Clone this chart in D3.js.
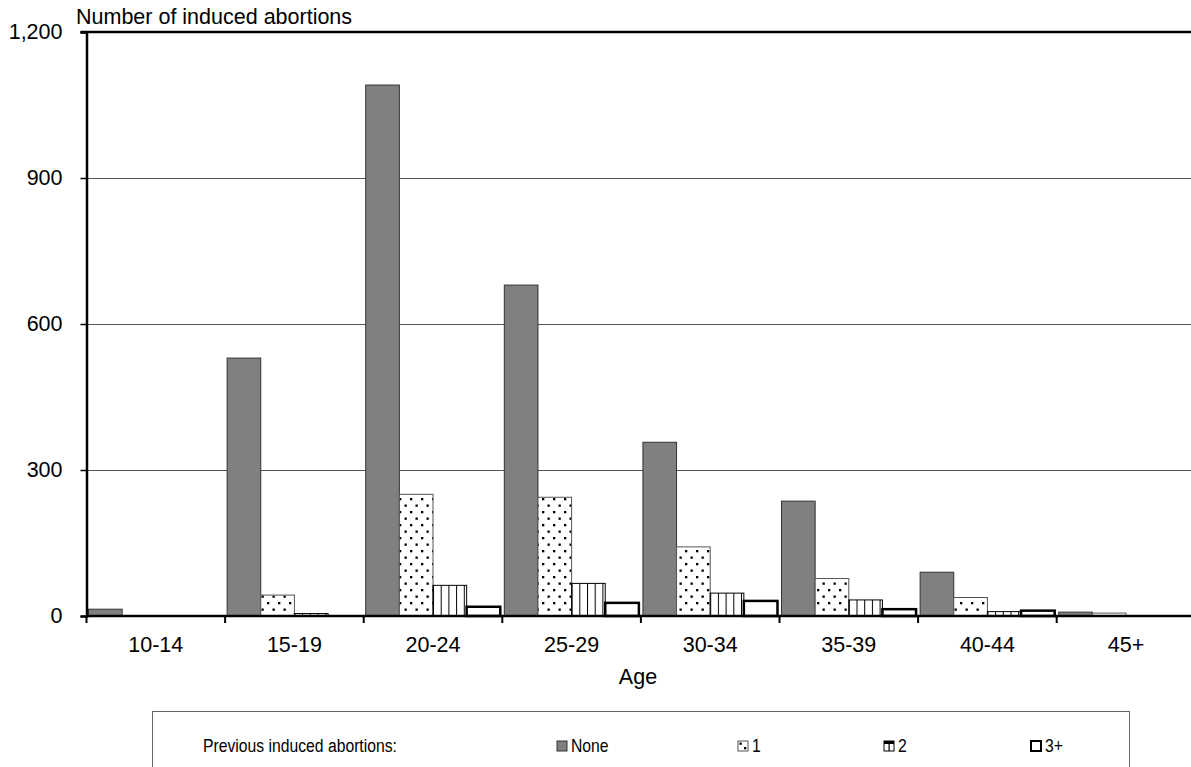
<!DOCTYPE html>
<html><head><meta charset="utf-8">
<script src="https://cdn.jsdelivr.net/npm/d3@7"></script>
<style>body{margin:0;background:#fff;} svg{display:block;font-family:"Liberation Sans",Arial,sans-serif;}</style>
</head><body>
<script>
const categories = ["10-14","15-19","20-24","25-29","30-34","35-39","40-44","45+"];
const seriesNames = ["None","1","2","3+"];
const none  = [14, 530, 1091, 680, 357, 236, 90, 8];
const one   = [0, 43, 250, 244, 142, 77, 38, 6];
const two   = [0, 5, 63, 67, 47, 33, 9, 0];
const three = [0, 0, 19, 27, 31, 14, 11, 0];
const yTicks = [0, 300, 600, 900, 1200];
const seriesValues = [none, one, two, three];

const W = 1191, H = 767;
const FS = 21.5;
const svg = d3.select("body").append("svg").attr("width", W).attr("height", H);
const defs = svg.append("defs");
const pDots = defs.append("pattern").attr("id","dots").attr("patternUnits","userSpaceOnUse").attr("width",11).attr("height",13).attr("x",2).attr("y",3);
pDots.append("rect").attr("width",11).attr("height",13).attr("fill","#fff");
pDots.append("rect").attr("x",1).attr("y",1).attr("width",2.3).attr("height",2.3).attr("fill","#000");
pDots.append("rect").attr("x",6.5).attr("y",7.5).attr("width",2.3).attr("height",2.3).attr("fill","#000");
const pV = defs.append("pattern").attr("id","vlines").attr("patternUnits","userSpaceOnUse").attr("width",7.7).attr("height",8).attr("x",433);
pV.append("rect").attr("width",7.7).attr("height",8).attr("fill","#fff");
pV.append("rect").attr("x",0).attr("width",1).attr("height",8).attr("fill","#000");

const styles = [
  {fill:"#808080", stroke:"#333", sw:1},
  {fill:"url(#dots)", stroke:"#555", sw:1},
  {fill:"url(#vlines)", stroke:"#000", sw:1},
  {fill:"#fff", stroke:"#000", sw:2.5}
];

const plotLeft = 86.5, plotTop = 32, plotBottom = 616;
const x = d3.scaleBand().domain(categories).range([plotLeft, plotLeft + 8*138.6]).paddingInner(0).paddingOuter(0);
const xs = d3.scaleBand().domain(seriesNames).range([0, x.bandwidth()]).paddingOuter(0.06).paddingInner(0);
const y = d3.scaleLinear().domain([0,1200]).range([plotBottom, plotTop]);

// gridlines
svg.append("g").selectAll("line").data(yTicks.filter(t=>t>0 && t<1200)).join("line")
  .attr("x1", plotLeft).attr("x2", W).attr("y1", d=>y(d)+0.5).attr("y2", d=>y(d)+0.5)
  .attr("stroke","#555").attr("stroke-width",1);

// bars
seriesValues.forEach((vals, si) => {
  const st = styles[si];
  svg.append("g").selectAll("rect").data(vals.map((v,i)=>({v, c:categories[i]}))).join("rect")
    .attr("x", d => x(d.c) + xs(seriesNames[si]))
    .attr("y", d => y(d.v))
    .attr("width", xs.bandwidth())
    .attr("height", d => Math.max(0, y(0) - y(d.v)))
    .attr("fill", st.fill).attr("stroke", st.stroke).attr("stroke-width", st.sw)
    .attr("display", d => d.v > 0 ? null : "none");
});

// top line
svg.append("line").attr("x1", plotLeft-6).attr("x2", W).attr("y1", plotTop).attr("y2", plotTop).attr("stroke","#000").attr("stroke-width",2.5);

// y axis
const yAxis = svg.append("g").attr("transform", `translate(${plotLeft},0)`)
  .call(d3.axisLeft(y).tickValues(yTicks).tickFormat(d3.format(",")).tickSize(6).tickPadding(18));
yAxis.select(".domain").attr("stroke","#000").attr("stroke-width",2.5);
yAxis.selectAll(".tick line").attr("stroke","#000").attr("stroke-width",1.5);
yAxis.selectAll(".tick text").attr("font-size",FS).attr("fill","#000").attr("font-family","Liberation Sans, Arial, sans-serif").attr("x",-24);

// x axis
const xAxis = svg.append("g").attr("transform", `translate(0,${plotBottom})`)
  .call(d3.axisBottom(x).tickSize(0).tickPadding(21));
xAxis.select(".domain").remove();
xAxis.append("line").attr("x1", plotLeft).attr("x2", W).attr("y1",0).attr("y2",0).attr("stroke","#000").attr("stroke-width",2.5);
xAxis.selectAll(".tick text").attr("font-size",FS).attr("fill","#000").attr("font-family","Liberation Sans, Arial, sans-serif");
xAxis.append("g").selectAll("line").data(categories).join("line")
  .attr("x1", d=>x(d)).attr("x2", d=>x(d)).attr("y1",0).attr("y2",7)
  .attr("stroke","#000").attr("stroke-width",2);

// titles
svg.append("text").attr("x", 76).attr("y", 24).attr("font-size",FS).text("Number of induced abortions");
svg.append("text").attr("x", 638).attr("y", 684).attr("text-anchor","middle").attr("font-size",FS).text("Age");

// legend
const LFS = 18.5, LSX = 0.85;
const lg = svg.append("g");
lg.append("rect").attr("x",152.5).attr("y",711.5).attr("width",977).attr("height",80).attr("fill","#fff").attr("stroke","#666").attr("stroke-width",1);
lg.append("text").attr("transform",`translate(203,752) scale(${LSX},1)`).attr("font-size",LFS).text("Previous induced abortions:");
const legX = [557, 738, 884, 1031];
seriesNames.forEach((n,i)=>{
  const st = styles[i];
  lg.append("rect").attr("x",legX[i]).attr("y",741).attr("width",10).attr("height",10)
    .attr("fill", i===1 ? "#fff" : (i===2 ? "#fff" : st.fill))
    .attr("stroke", st.stroke).attr("stroke-width", i===3 ? 2 : 1);
  if (i===1) {
    lg.append("rect").attr("x",legX[i]+1.5).attr("y",742.5).attr("width",2.3).attr("height",2.3).attr("fill","#000");
    lg.append("rect").attr("x",legX[i]+6).attr("y",747).attr("width",2.3).attr("height",2.3).attr("fill","#000");
  }
  if (i===2) {
    lg.append("rect").attr("x",legX[i]).attr("y",741).attr("width",10).attr("height",3).attr("fill","#000");
    lg.append("rect").attr("x",legX[i]+4.5).attr("y",741).attr("width",1.2).attr("height",10).attr("fill","#000");
  }
  lg.append("text").attr("transform",`translate(${legX[i]+14},752) scale(${LSX},1)`).attr("font-size",LFS).text(n);
});
</script>
</body></html>
